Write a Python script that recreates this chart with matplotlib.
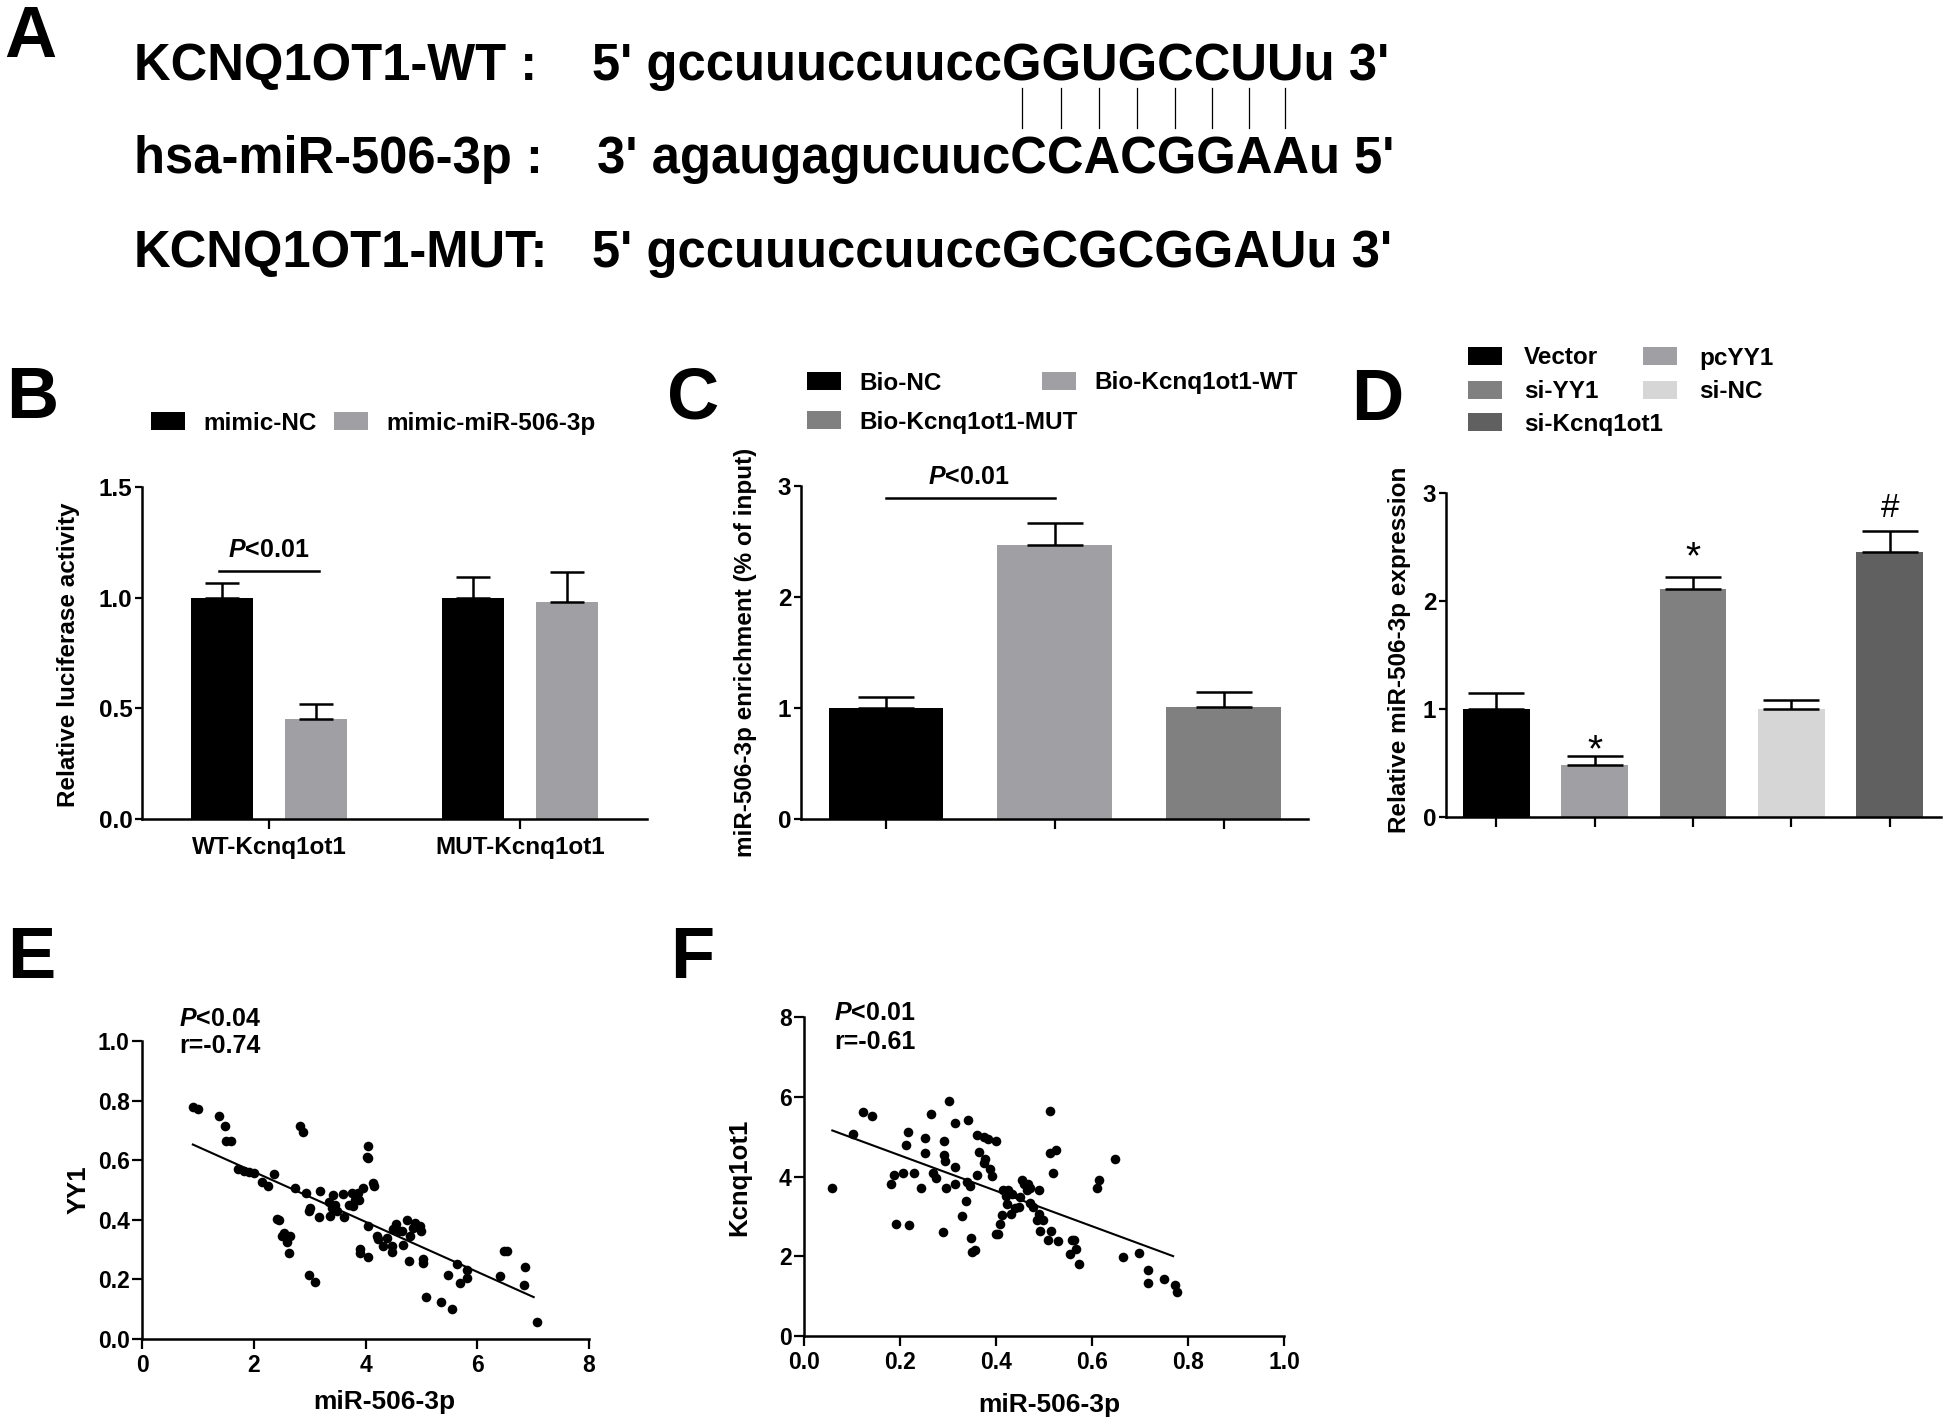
import numpy as np
import matplotlib
matplotlib.use('Agg')
import matplotlib.pyplot as plt
from matplotlib.lines import Line2D

plt.rcParams['font.family'] = ['Liberation Sans', 'DejaVu Sans']
plt.rcParams['font.weight'] = 'bold'
plt.rcParams['axes.labelweight'] = 'bold'
plt.rcParams['mathtext.fontset'] = 'custom'
plt.rcParams['mathtext.it'] = 'Liberation Sans:italic:bold'
plt.rcParams['mathtext.rm'] = 'Liberation Sans:bold'

W, H = 1944, 1419

# ---- panel A : sequences
seq_names = ['KCNQ1OT1-WT :', 'hsa-miR-506-3p :', 'KCNQ1OT1-MUT:']
seq_strings = ["5' gccuuuccuuccGGUGCCUUu 3'",
               "3' agaugagucuucCCACGGAAu 5'",
               "5' gccuuuccuuccGCGCGGAUu 3'"]

# ---- panel B : luciferase
b_groups = ['WT-Kcnq1ot1', 'MUT-Kcnq1ot1']
b_series = ['mimic-NC', 'mimic-miR-506-3p']
b_nc = [1.0, 1.0]
b_nc_err = [0.068, 0.095]
b_mimic = [0.45, 0.98]
b_mimic_err = [0.068, 0.135]

# ---- panel C : RNA pull-down
c_groups = ['Bio-NC', 'Bio-Kcnq1ot1-WT', 'Bio-Kcnq1ot1-MUT']
c_vals = [1.0, 2.47, 1.01]
c_err = [0.10, 0.20, 0.13]

# ---- panel D : expression
d_groups = ['Vector', 'pcYY1', 'si-YY1', 'si-NC', 'si-Kcnq1ot1']
d_vals = [1.0, 0.48, 2.11, 1.0, 2.45]
d_err = [0.15, 0.085, 0.11, 0.08, 0.20]
d_marks = ['', '*', '*', '', '#']
d_mark_y = [0, 0.52, 2.30, 0, 2.78]

# ---- panel E : miR-506-3p vs YY1
e_mir = [0.91, 1.01, 1.38, 1.48, 1.51, 1.59, 1.71, 1.83, 1.92, 2.01, 2.15, 2.26,
         2.37, 2.41, 2.45, 2.51, 2.55, 2.60, 2.64, 2.63, 2.73, 2.82, 2.88, 2.94,
         2.99, 3.01, 2.99, 3.10, 3.16, 3.18, 3.35, 3.37, 3.40, 3.42, 3.46, 3.49,
         3.59, 3.61, 3.71, 3.76, 3.77, 3.82, 3.86, 3.89, 3.96, 3.90, 3.90, 4.02,
         4.05, 4.05, 4.05, 4.05, 4.13, 4.16, 4.20, 4.22, 4.31, 4.38, 4.48, 4.48,
         4.50, 4.54, 4.60, 4.65, 4.68, 4.74, 4.80, 4.78, 4.85, 4.88, 4.97, 5.00,
         5.03, 5.03, 5.08, 5.35, 5.48, 5.54, 5.63, 5.69, 5.82, 5.82, 6.41, 6.47,
         6.53, 6.83, 6.85, 7.07]
e_yy1 = [0.778, 0.771, 0.75, 0.716, 0.665, 0.665, 0.57, 0.565, 0.562, 0.556, 0.528, 0.512,
         0.554, 0.402, 0.40, 0.346, 0.355, 0.327, 0.346, 0.288, 0.506, 0.716, 0.696, 0.489,
         0.431, 0.439, 0.216, 0.19, 0.409, 0.495, 0.461, 0.413, 0.439, 0.484, 0.45, 0.428,
         0.486, 0.411, 0.45, 0.489, 0.445, 0.467, 0.489, 0.467, 0.508, 0.302, 0.288, 0.612,
         0.646, 0.607, 0.38, 0.274, 0.523, 0.512, 0.344, 0.335, 0.313, 0.339, 0.313, 0.291,
         0.369, 0.385, 0.361, 0.364, 0.316, 0.398, 0.344, 0.263, 0.372, 0.389, 0.378, 0.361,
         0.268, 0.255, 0.14, 0.123, 0.216, 0.101, 0.251, 0.188, 0.232, 0.204, 0.21, 0.294,
         0.294, 0.182, 0.241, 0.056]

# ---- panel F : miR-506-3p vs Kcnq1ot1
f_mir = [0.059, 0.102, 0.123, 0.141, 0.181, 0.187, 0.192, 0.207, 0.213, 0.216, 0.218, 0.230,
         0.244, 0.253, 0.253, 0.264, 0.268, 0.275, 0.290, 0.291, 0.291, 0.294, 0.296, 0.302,
         0.314, 0.314, 0.314, 0.330, 0.337, 0.339, 0.341, 0.345, 0.347, 0.349, 0.356, 0.361,
         0.361, 0.364, 0.374, 0.375, 0.377, 0.384, 0.387, 0.391, 0.399, 0.401, 0.404, 0.409,
         0.413, 0.415, 0.421, 0.423, 0.425, 0.432, 0.434, 0.440, 0.447, 0.451, 0.454, 0.459,
         0.465, 0.466, 0.470, 0.471, 0.477, 0.485, 0.489, 0.490, 0.492, 0.497, 0.509, 0.512,
         0.513, 0.514, 0.519, 0.524, 0.529, 0.555, 0.559, 0.563, 0.566, 0.572, 0.610, 0.615,
         0.648, 0.665, 0.698, 0.717, 0.717, 0.751, 0.773, 0.777]
f_kcnq = [3.70, 5.06, 5.62, 5.51, 3.81, 4.05, 2.80, 4.08, 4.80, 5.12, 2.78, 4.08,
          3.72, 4.97, 4.60, 5.56, 4.10, 3.97, 2.60, 4.89, 4.55, 4.38, 3.72, 5.89,
          5.35, 4.23, 3.82, 3.01, 3.38, 3.85, 5.41, 3.77, 2.47, 2.10, 2.15, 4.03,
          5.05, 4.62, 4.99, 4.34, 4.45, 4.94, 4.18, 4.01, 4.89, 2.56, 2.57, 2.80,
          3.03, 3.67, 3.51, 3.30, 3.66, 3.07, 3.57, 3.20, 3.24, 3.49, 3.91, 3.81,
          3.67, 3.81, 3.70, 3.34, 3.24, 2.91, 3.67, 3.05, 2.64, 2.92, 2.42, 4.58,
          5.65, 2.64, 4.10, 4.66, 2.38, 2.05, 2.42, 2.42, 2.17, 1.80, 3.70, 3.91,
          4.45, 1.97, 2.09, 1.65, 1.32, 1.42, 1.28, 1.11]

BLACK = '#000000'
GREY = '#a0a0a4'
MID = '#808080'
LIGHT = '#d6d6d6'
DARK = '#606060'

SEQ_FS = 36.5

fig = plt.figure(figsize=(W / 100, H / 100), dpi=100)


def fx(x):
    return x / W


def fy(y):
    return 1 - y / H


def px_axes(x0, x1, ytop, ybot):
    return fig.add_axes([fx(x0), fy(ybot), (x1 - x0) / W, (ybot - ytop) / H])


def style(ax, tick_fs, ylen=5, xlen=7, xpad=3):
    for s in ['top', 'right']:
        ax.spines[s].set_visible(False)
    for s in ['left', 'bottom']:
        ax.spines[s].set_linewidth(1.8)
    ax.tick_params(axis='y', direction='out', length=ylen, width=1.6, pad=2, labelsize=tick_fs)
    ax.tick_params(axis='x', direction='out', length=xlen, width=1.6, pad=xpad, labelsize=tick_fs)


def key(handle, label, x, y, pad):
    fig.legend([handle], [label], loc='center left', bbox_to_anchor=(fx(x), fy(y)),
               frameon=False, borderpad=0, borderaxespad=0, handlelength=1.4,
               handleheight=0.7, handletextpad=pad, fontsize=17.5)


def panel_label(s, x, y):
    fig.text(fx(x), fy(y), s, fontsize=52, fontweight='bold', ha='left', va='baseline')


# ---------------- A
panel_label('A', 4, 57)
name_x = 134
seq_x = [592, 597, 592]
base_y = [80, 173, 267]
for name, seq, sx, by in zip(seq_names, seq_strings, seq_x, base_y):
    fig.text(fx(name_x), fy(by), name, fontsize=SEQ_FS, ha='left', va='baseline')
    fig.text(fx(sx), fy(by), seq, fontsize=SEQ_FS, ha='left', va='baseline')

# pairing bars under the upper-case letters of the WT line
renderer = fig.canvas.get_renderer()


def prefix_width(s):
    if not s:
        return 0.0
    t = fig.text(0, 0, s, fontsize=SEQ_FS, ha='left', va='baseline')
    w = t.get_window_extent(renderer).width
    t.remove()
    return w


wt = seq_strings[0]
for i, ch in enumerate(wt):
    if ch.isupper():
        cx = seq_x[0] + (prefix_width(wt[:i]) + prefix_width(wt[:i + 1])) / 2
        fig.add_artist(Line2D([fx(cx), fx(cx)], [fy(88), fy(128)], color='black', lw=0.9))

# ---------------- B
panel_label('B', 6, 418)
axb = px_axes(142, 647, 487, 819)
xb = np.arange(len(b_groups))
off, bw = 0.187, 0.25
bars_nc = axb.bar(xb - off, b_nc, bw, color=BLACK)
bars_mi = axb.bar(xb + off, b_mimic, bw, color=GREY)
axb.errorbar(xb - off, b_nc, yerr=[np.zeros(2), b_nc_err], fmt='none', ecolor='black',
             elinewidth=1.8, capsize=12, capthick=1.8)
axb.errorbar(xb + off, b_mimic, yerr=[np.zeros(2), b_mimic_err], fmt='none', ecolor='black',
             elinewidth=1.8, capsize=12, capthick=1.8)
axb.set_xlim(-0.506, 1.506)
axb.set_ylim(0, 1.5)
axb.set_yticks([0, 0.5, 1.0, 1.5])
axb.set_yticklabels(['0.0', '0.5', '1.0', '1.5'])
axb.set_xticks(xb)
axb.set_xticklabels(b_groups)
style(axb, 17.5, xpad=5)
axb.plot([-0.2, 0.2], [1.12, 1.12], color='black', lw=1.8)
axb.text(0, 1.215, '$P$<0.01', ha='center', va='center', fontsize=18)
fig.text(fx(68), fy(655), 'Relative luciferase activity', rotation=90,
         ha='center', va='center', fontsize=17.5)
key(bars_nc, b_series[0], 151, 423, 0.74)
key(bars_mi, b_series[1], 334, 423, 0.74)

# ---------------- C
panel_label('C', 667, 418)
axc = px_axes(801, 1308, 486, 819)
xc = np.arange(len(c_groups))
bars_c = axc.bar(xc, c_vals, 0.68, color=[BLACK, GREY, MID])
axc.errorbar(xc, c_vals, yerr=[np.zeros(3), c_err], fmt='none', ecolor='black',
             elinewidth=1.8, capsize=20, capthick=1.8)
axc.set_xlim(-0.504, 2.5)
axc.set_ylim(0, 3)
axc.set_yticks([0, 1, 2, 3])
axc.set_xticks(xc)
axc.set_xticklabels([''] * 3)
style(axc, 17.5)
axc.plot([0, 1], [2.89, 2.89], color='black', lw=1.8)
axc.text(0.49, 3.08, '$P$<0.01', ha='center', va='center', fontsize=18)
fig.text(fx(745), fy(652), 'miR-506-3p enrichment (% of input)', rotation=90,
         ha='center', va='center', fontsize=17.5)
key(bars_c[0], c_groups[0], 807, 383, 0.74)
key(bars_c[1], c_groups[1], 1042, 383, 0.74)
key(bars_c[2], c_groups[2], 807, 422, 0.74)

# ---------------- D
panel_label('D', 1351, 420)
axd = px_axes(1446, 1941, 493, 817)
xd = np.arange(len(d_groups))
bars_d = axd.bar(xd, d_vals, 0.68, color=[BLACK, GREY, MID, LIGHT, DARK])
axd.errorbar(xd, d_vals, yerr=[np.zeros(5), d_err], fmt='none', ecolor='black',
             elinewidth=1.8, capsize=20, capthick=1.8)
for x, m, my in zip(xd, d_marks, d_mark_y):
    if m:
        axd.text(x, my, m, ha='center', va='baseline',
                 fontsize=28 if m == '*' else 24, fontweight='normal')
axd.set_xlim(-0.51, 4.52)
axd.set_ylim(0, 3)
axd.set_yticks([0, 1, 2, 3])
axd.set_xticks(xd)
axd.set_xticklabels([''] * 5)
style(axd, 17.5)
fig.text(fx(1399), fy(650), 'Relative miR-506-3p expression', rotation=90,
         ha='center', va='center', fontsize=17.5)
key(bars_d[0], d_groups[0], 1468, 358, 0.9)
key(bars_d[2], d_groups[2], 1468, 392, 0.9)
key(bars_d[4], d_groups[4], 1468, 424, 0.9)
key(bars_d[1], d_groups[1], 1643, 358, 0.9)
key(bars_d[3], d_groups[3], 1643, 392, 0.9)

# ---------------- E
panel_label('E', 7, 978)
axe = px_axes(142, 589, 1041, 1339)
axe.scatter(e_mir, e_yy1, s=48, color='black', linewidths=0, zorder=3)
k, b0 = np.polyfit(e_mir, e_yy1, 1)
xe = np.array([min(e_mir), 7.01])
axe.plot(xe, k * xe + b0, color='black', lw=1.5)
axe.set_xlim(0, 8)
axe.set_ylim(0, 1.0)
axe.set_xticks([0, 2, 4, 6, 8])
axe.set_yticks(np.arange(0, 1.01, 0.2))
axe.set_yticklabels(['0.0', '0.2', '0.4', '0.6', '0.8', '1.0'])
style(axe, 16.5, ylen=7, xlen=7, xpad=4)
fig.text(fx(179), fy(1019), '$P$<0.04', ha='left', va='center', fontsize=18)
fig.text(fx(179), fy(1046), 'r=-0.74', ha='left', va='center', fontsize=18)
fig.text(fx(384), fy(1402), 'miR-506-3p', ha='center', va='center', fontsize=19)
fig.text(fx(79), fy(1190), 'YY1', rotation=90, ha='center', va='center', fontsize=18.5)

# ---------------- F
panel_label('F', 670, 978)
axf = px_axes(804, 1284, 1017, 1336)
axf.scatter(f_mir, f_kcnq, s=48, color='black', linewidths=0, zorder=3)
k, b0 = np.polyfit(f_mir, f_kcnq, 1)
xf = np.array([min(f_mir), 0.769])
axf.plot(xf, k * xf + b0, color='black', lw=1.5)
axf.set_xlim(0, 1.0)
axf.set_ylim(0, 8)
axf.set_xticks(np.arange(0, 1.01, 0.2))
axf.set_xticklabels(['0.0', '0.2', '0.4', '0.6', '0.8', '1.0'])
axf.set_yticks([0, 2, 4, 6, 8])
style(axf, 16.5, ylen=7, xlen=7, xpad=4)
fig.text(fx(834), fy(1013), '$P$<0.01', ha='left', va='center', fontsize=18)
fig.text(fx(834), fy(1042), 'r=-0.61', ha='left', va='center', fontsize=18)
fig.text(fx(1049), fy(1405), 'miR-506-3p', ha='center', va='center', fontsize=19)
fig.text(fx(739), fy(1177), 'Kcnq1ot1', rotation=90, ha='center', va='center', fontsize=18.5)

fig.savefig('out.png', dpi=100)
